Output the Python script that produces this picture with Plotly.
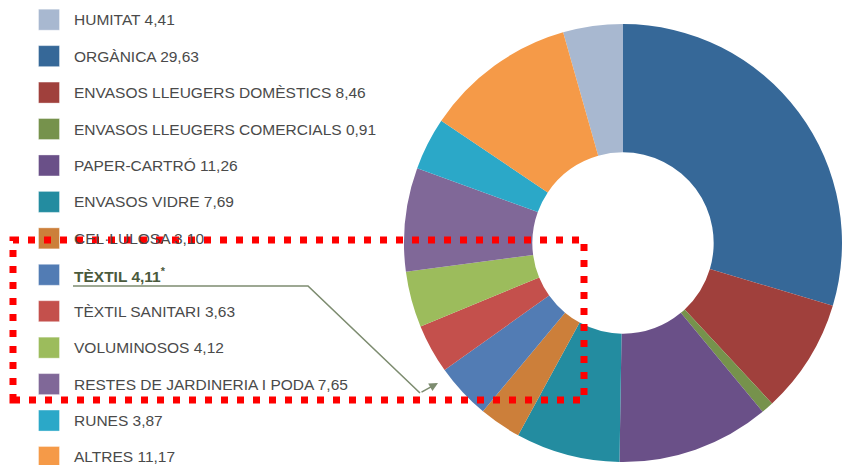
import plotly.graph_objects as go

W, H = 842, 465

labels = ["HUMITAT", "ORGÀNICA", "ENVASOS LLEUGERS DOMÈSTICS", "ENVASOS LLEUGERS COMERCIALS",
          "PAPER-CARTRÓ", "ENVASOS VIDRE", "CEL·LULOSA", "TÈXTIL", "TÈXTIL SANITARI",
          "VOLUMINOSOS", "RESTES DE JARDINERIA I PODA", "RUNES", "ALTRES"]
values = [4.41, 29.63, 8.46, 0.91, 11.26, 7.69, 3.10, 4.11, 3.63, 4.12, 7.65, 3.87, 11.17]
value_text = ["4,41", "29,63", "8,46", "0,91", "11,26", "7,69", "3,10", "4,11*", "3,63",
              "4,12", "7,65", "3,87", "11,17"]
colors = ["#a8b8d0", "#366898", "#a0403c", "#76924c", "#6a5088", "#238ca0", "#cc7f3a",
          "#527cb4", "#c4504c", "#9cbc5c", "#806898", "#2ba8c8", "#f59a48"]
highlight = "TÈXTIL"


def px(x):
    return x / W


def py(y):
    return 1 - y / H


total = sum(values)
fig = go.Figure()
fig.add_trace(go.Pie(
    labels=labels, values=values, sort=False, direction="clockwise",
    rotation=-values[0] / total * 360, hole=0.414,
    marker=dict(colors=colors, line=dict(width=0)),
    textinfo="none", showlegend=False,
    domain=dict(x=[px(404), 1], y=[py(465), py(21)]),
))

shapes = []
annotations = []
row0, step, sq = 19.7, 36.44, 21
for i, (lab, vt, col) in enumerate(zip(labels, value_text, colors)):
    cy = row0 + i * step
    shapes.append(dict(type="rect", xref="paper", yref="paper",
                       x0=px(38.5), x1=px(38.5 + sq), y0=py(cy - sq / 2), y1=py(cy + sq / 2),
                       fillcolor=col, line=dict(width=0.6, color="rgba(255,255,255,0.6)")))
    if lab == highlight:
        txt = "<b>" + lab + " " + vt.replace("*", "") + "<sup>*</sup></b>"
        fc = "#4b5a3c"
    else:
        txt = lab + " " + vt
        fc = "#4a4a4a"
    annotations.append(dict(xref="paper", yref="paper", x=px(72), y=py(cy), text=txt,
                            showarrow=False, xanchor="left", yanchor="middle",
                            font=dict(family="Liberation Sans, Arial", size=15.5, color=fc)))

# callout line from the highlighted entry to the donut
lc = "#7d8c70"
path = "M {} {} L {} {} L {} {}".format(px(73), py(286), px(308), py(286), px(420), py(393))
shapes.append(dict(type="path", xref="paper", yref="paper", path=path,
                   line=dict(color=lc, width=1.6)))
annotations.append(dict(xref="paper", yref="paper", x=px(438), y=py(383), ax=-18, ay=10,
                        axref="pixel", ayref="pixel", text="", showarrow=True,
                        arrowhead=2, arrowsize=1.1, arrowwidth=1.6, arrowcolor=lc))

# red dotted highlight rectangle
shapes.append(dict(type="rect", xref="paper", yref="paper",
                   x0=px(13), x1=px(584), y0=py(400), y1=py(240),
                   line=dict(color="#ff0000", width=7, dash="7px,9px")))

fig.update_layout(width=W, height=H, margin=dict(l=0, r=0, t=0, b=0),
                  paper_bgcolor="white", plot_bgcolor="white",
                  shapes=shapes, annotations=annotations)
fig.write_html("out.html", config={"displayModeBar": False},
               post_script="document.body.style.margin='0px';")
